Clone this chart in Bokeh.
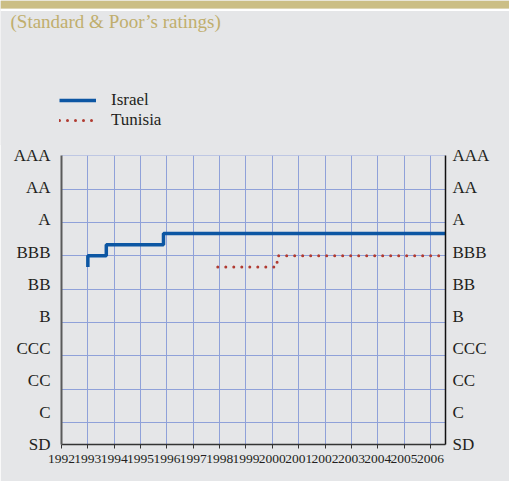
import numpy as np
from bokeh.plotting import figure
from bokeh.models import (FixedTicker, LinearAxis, Label, BoxAnnotation, Range1d,
                          Legend, LegendItem)
from bokeh.embed import file_html
from bokeh.resources import INLINE

# ---- data ----
rating_labels = ["AAA", "AA", "A", "BBB", "BB", "B", "CCC", "CC", "C", "SD"]
years = list(range(1992, 2007))

israel_x = [1993.0, 1993.0, 1993.7, 1995.87, 2006.57]
israel_r = ["BBB-", "BBB", "BBB+", "A-", "A-"]

tunisia_x = [1997.93, 2000.18, 2006.57]
tunisia_r = ["BBB-", "BBB", "BBB"]

major_levels = {"C": 1, "CC": 2, "CCC": 3, "B": 4, "BB": 5, "BBB": 6, "A": 7, "AA": 8, "AAA": 9}


def level(r):
    base = r.rstrip("+-")
    v = major_levels[base]
    if r.endswith("+"):
        v += 1 / 3
    elif r.endswith("-"):
        v -= 1 / 3
    return v


israel_y = [level(r) for r in israel_r]
tunisia_y = [level(r) for r in tunisia_r]

# ---- style ----
BG = "#e5e6e8"
GRID = "#8fa1d9"
BLUE = "#0c56a3"
RED = "#b13b32"
TXT = "#231f20"
GOLD = "#cbbe85"
TITLE_C = "#c0ae6d"
FONT = "Liberation Serif"
W = 509

# ---------- header figure (band, subtitle, legend) ----------
TOP_H = 145
pt = figure(width=W, height=TOP_H, x_range=Range1d(0, W), y_range=Range1d(0, TOP_H),
            x_axis_type=None, y_axis_type=None, min_border=0,
            min_border_left=0, min_border_right=0, min_border_top=0, min_border_bottom=0,
            output_backend="svg", toolbar_location=None,
            background_fill_color=BG, border_fill_color=BG, outline_line_color=None)
pt.styles = {"vertical-align": "top"}

pt.add_layout(BoxAnnotation(left=0, right=W, top=TOP_H, bottom=TOP_H - 8.3,
                            fill_color=GOLD, fill_alpha=1, line_color=None))
pt.add_layout(BoxAnnotation(left=0, right=W, top=TOP_H - 8.3, bottom=TOP_H - 10.5,
                            fill_color="white", fill_alpha=1, line_color=None))
pt.add_layout(Label(x=10, y=TOP_H - 21, text="(Standard & Poor\u2019s ratings)",
                    text_font=FONT, text_font_size="19px", text_color=TITLE_C,
                    text_baseline="alphabetic"))

# legend glyphs use the real series (they lie outside this header's ranges)
lg_is = pt.line(israel_x, israel_y, line_color=BLUE, line_width=3.5)
lg_tu = pt.line(tunisia_x, tunisia_y, line_color=RED, line_width=3,
                line_dash="0 8", line_cap="round")
legend = Legend(items=[LegendItem(label="Israel", renderers=[lg_is]),
                       LegendItem(label="Tunisia", renderers=[lg_tu])],
                location=(59, TOP_H - 130), orientation="vertical",
                glyph_width=37, glyph_height=20, label_height=20, label_standoff=15,
                padding=0, margin=0, spacing=0,
                border_line_color=None, background_fill_alpha=0,
                label_text_font=FONT, label_text_font_size="17px", label_text_color=TXT)
pt.add_layout(legend, "center")

# ---------- main chart ----------
Y0, Y1 = 0.34, 9.01
p = figure(width=W, height=482 - TOP_H, x_range=Range1d(1992, 2006.57), y_range=Range1d(Y0, Y1),
           output_backend="svg", toolbar_location=None,
           min_border_left=61, min_border_right=64, min_border_top=11, min_border_bottom=37,
           background_fill_color=BG, border_fill_color=BG, outline_line_color=None)
p.styles = {"vertical-align": "top"}
p.margin = (-1, 0, 0, 0)

p.xgrid.ticker = FixedTicker(ticks=years[1:])
p.ygrid.ticker = FixedTicker(ticks=[major_levels[k] for k in major_levels])
for g in (p.xgrid, p.ygrid):
    g.grid_line_color = GRID
    g.grid_line_width = 1

label_pos = [round(float(v), 4) for v in np.linspace(9.0, Y0, len(rating_labels))]
overrides = {pos: lab for pos, lab in zip(label_pos, rating_labels)}

yl = p.yaxis[0]
yl.ticker = FixedTicker(ticks=label_pos)
yl.major_label_overrides = overrides
yl.major_tick_out = 0
yl.major_tick_in = 0
yl.minor_tick_out = 0
yl.minor_tick_in = 0
yl.axis_line_color = "#5a5a5a"
yl.axis_line_width = 2
yl.major_label_standoff = 11
yl.major_label_text_font = FONT
yl.major_label_text_font_size = "17px"
yl.major_label_text_color = TXT

yr = LinearAxis(ticker=FixedTicker(ticks=label_pos), major_label_overrides=overrides)
yr.major_tick_out = 0
yr.major_tick_in = 0
yr.minor_tick_out = 0
yr.minor_tick_in = 0
yr.axis_line_color = "#111111"
yr.axis_line_width = 1.5
yr.major_label_standoff = 7
yr.major_label_text_font = FONT
yr.major_label_text_font_size = "17px"
yr.major_label_text_color = TXT
p.add_layout(yr, "right")

xa = p.xaxis[0]
xa.ticker = FixedTicker(ticks=years)
xa.major_label_overrides = {y: str(y) for y in years}
xa.major_tick_out = 4
xa.major_tick_in = 0
xa.minor_tick_out = 0
xa.minor_tick_in = 0
xa.major_tick_line_color = "#333333"
xa.axis_line_color = "#333333"
xa.axis_line_width = 1.5
xa.major_label_standoff = 6
xa.major_label_text_font = FONT
xa.major_label_text_font_size = "13.5px"
xa.major_label_text_color = TXT

p.step(israel_x, israel_y, mode="after", line_color=BLUE, line_width=3.5)
p.step(tunisia_x, tunisia_y, mode="after", line_color=RED, line_width=3,
       line_dash="0 8", line_cap="round")

open("out.html", "w").write(file_html([pt, p], INLINE))
